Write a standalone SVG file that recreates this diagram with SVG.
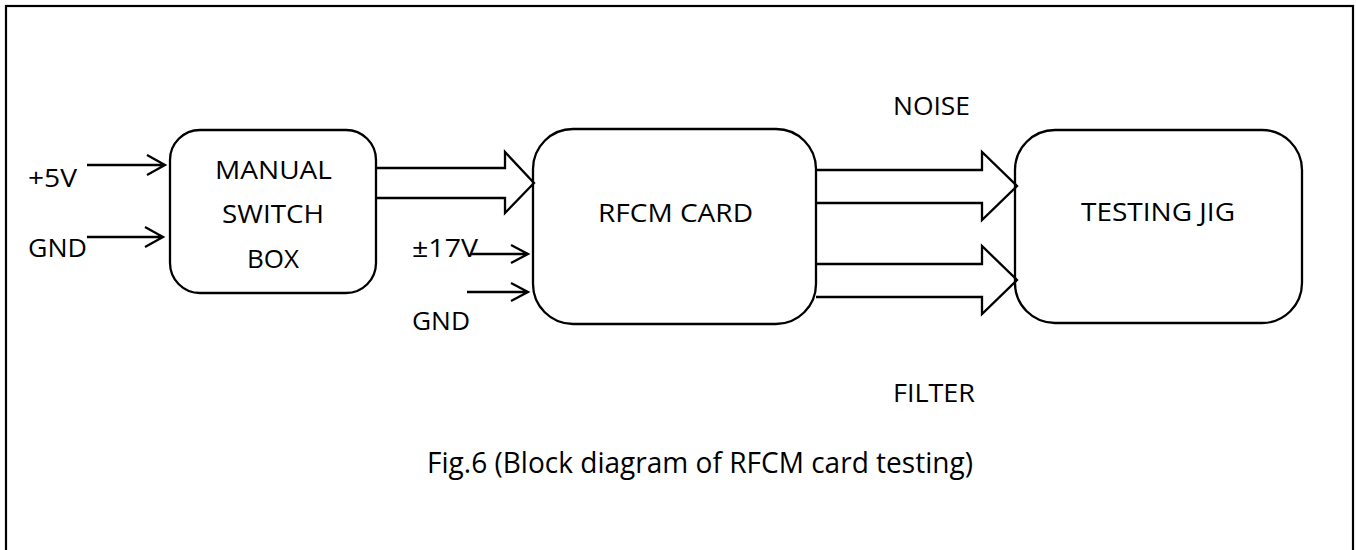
<svg xmlns="http://www.w3.org/2000/svg" width="1356" height="550" viewBox="0 0 1356 550">
<style>
.box{fill:#fff;stroke:#000;stroke-width:2.3}
.ln{fill:none;stroke:#000;stroke-width:2.3;stroke-linejoin:miter}
.t{font-family:"Open Sans","Liberation Sans",sans-serif;font-size:26px;fill:#000}
.c{font-family:"Open Sans","Liberation Sans",sans-serif;font-size:29px;fill:#000}
</style>
<rect x="0" y="0" width="1356" height="550" fill="#fff"/>
<rect x="6" y="6" width="1347" height="560" fill="none" stroke="#000" stroke-width="2.2"/>
<g id="manual-switch-box">
<rect class="box" x="170" y="130" width="206" height="163" rx="30" ry="30"/>
<text class="t" x="215" y="179" textLength="117" lengthAdjust="spacingAndGlyphs">MANUAL</text>
<text class="t" x="222" y="223" textLength="102" lengthAdjust="spacingAndGlyphs">SWITCH</text>
<text class="t" x="247" y="268" textLength="52" lengthAdjust="spacingAndGlyphs">BOX</text>
</g>
<g id="rfcm-card">
<rect class="box" x="533" y="129" width="283" height="195" rx="40" ry="40"/>
<text class="t" x="598" y="222" textLength="155" lengthAdjust="spacingAndGlyphs">RFCM CARD</text>
</g>
<g id="testing-jig">
<rect class="box" x="1015" y="130" width="287" height="193" rx="40" ry="40"/>
<text class="t" x="1081" y="221" textLength="154" lengthAdjust="spacingAndGlyphs">TESTING JIG</text>
</g>
<g id="connectors">
<path class="ln" d="M87 165 H165 M147 155 L165 165 L147 175"/>
<path class="ln" d="M87 237 H163 M145 227 L163 237 L145 247"/>
<path class="ln" d="M470 254 H528 M511 245 L528 254 L511 263"/>
<path class="ln" d="M467 292 H528 M511 283 L528 292 L511 301"/>
<path class="ln" d="M376 168 H505 V152 L534 183 L505 213 V198 H376"/>
<path class="ln" d="M816 170 H982 V152 L1017 186 L982 220 V203 H816"/>
<path class="ln" d="M816 264 H982 V246 L1017 280 L982 314 V297 H816"/>
</g>
<g id="labels">
<text class="t" x="28" y="187" textLength="49" lengthAdjust="spacingAndGlyphs">+5V</text>
<text class="t" x="28" y="257" textLength="59" lengthAdjust="spacingAndGlyphs">GND</text>
<text class="t" x="412" y="257" textLength="66" lengthAdjust="spacingAndGlyphs">±17V</text>
<text class="t" x="412" y="330" textLength="58" lengthAdjust="spacingAndGlyphs">GND</text>
<text class="t" x="893" y="115" textLength="77" lengthAdjust="spacingAndGlyphs">NOISE</text>
<text class="t" x="893" y="402" textLength="82" lengthAdjust="spacingAndGlyphs">FILTER</text>
<text class="c" x="427" y="473" textLength="546" lengthAdjust="spacingAndGlyphs">Fig.6 (Block diagram of RFCM card testing)</text>
</g>
</svg>
